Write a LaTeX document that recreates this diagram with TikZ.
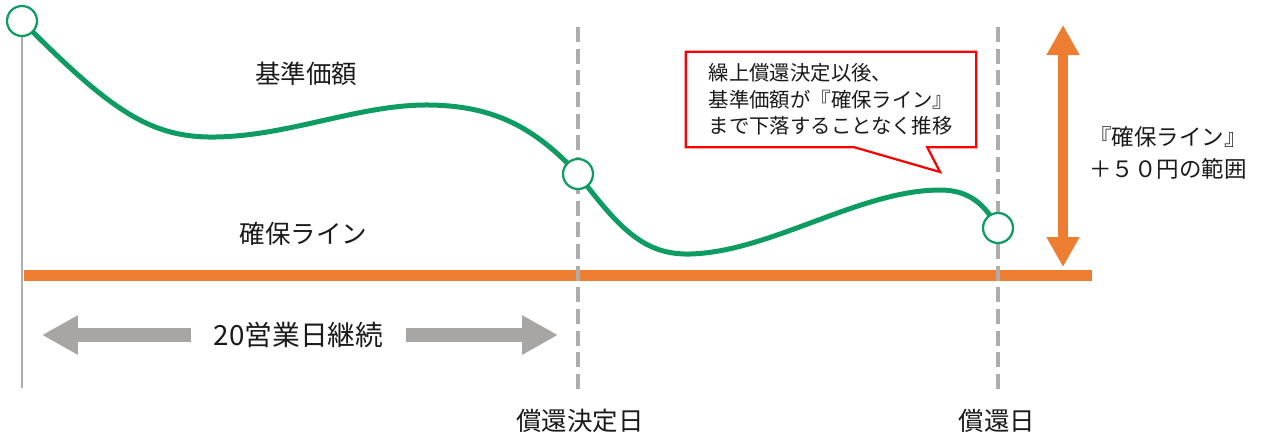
\documentclass[tikz,border=0pt]{standalone}
\usepackage{fontspec}
\setmainfont{Noto Sans CJK JP}
\usetikzlibrary{arrows.meta,calc}
\definecolor{grn}{HTML}{0E9C62}
\definecolor{org}{HTML}{ED7D31}
\definecolor{gry}{HTML}{A8A6A5}
\definecolor{dgry}{HTML}{ADADAD}
\definecolor{txt}{HTML}{1A1A1A}
\definecolor{callred}{HTML}{FF0000}
\tikzset{
  lbl/.style={text=txt,inner sep=0pt,font=\fontsize{14.5pt}{17pt}\selectfont},
  ptcirc/.style={circle,draw=grn,line width=0.045cm,fill=white,minimum size=0.6cm,inner sep=0pt},
  vdash/.style={draw=dgry,line width=0.09cm,dash pattern=on 0.3cm off 0.134cm},
  axisline/.style={draw=dgry,line width=0.05cm},
  baseline/.style={draw=org,line width=0.22cm},
  price/.style={draw=grn,line width=0.1cm,line cap=round},
  grayarr/.style={draw=gry,line width=0.28cm,-{Triangle[length=0.72cm,width=0.74cm]}},
  orgarr/.style={draw=org,line width=0.2cm,{Triangle[length=0.6cm,width=0.62cm]}-{Triangle[length=0.6cm,width=0.62cm]}},
  callbox/.style={text=txt,align=left,minimum width=5.8cm,minimum height=1.9cm,inner sep=0pt,font=\fontsize{11.6pt}{15pt}\selectfont},
}
\begin{document}
\begin{tikzpicture}[x=0.02cm,y=-0.02cm]
\useasboundingbox (0,0) rectangle (1266,441);
% coordinates
\coordinate (p1) at (22,21);
\coordinate (p2) at (578,174);
\coordinate (p3) at (998,228);
\coordinate (ax0) at (22,388);
\coordinate (bl0) at (24,275.5);
\coordinate (bl1) at (1092,275.5);
\coordinate (d1t) at (578,27);
\coordinate (d1b) at (578,390);
\coordinate (d2t) at (998,27);
\coordinate (d2b) at (998,390);
% orange baseline
\draw[baseline] (bl0) -- (bl1);
% dashed lines
\draw[vdash] (d1t) -- (d1b);
\draw[vdash] (d2t) -- (d2b);
% axis
\draw[axisline] (p1) -- (ax0);
% price curve
\draw[price] (p1) .. controls (110,110) and (150,138) .. (215,137)
  .. controls (290,136) and (360,104) .. (430,105)
  .. controls (495,106) and (535,128) .. (p2)
  .. controls (620,230) and (645,255) .. (690,254)
  .. controls (770,252) and (860,190) .. (940,190)
  .. controls (970,190) and (985,205) .. (p3);
% circles
\node[ptcirc] (c1) at (p1) {};
\node[ptcirc] (c2) at (p2) {};
\node[ptcirc] (c3) at (p3) {};
% labels
\node[lbl] (kijun) at (306,74) {基準価額};
\node[lbl] (kakuho) at (303.5,233.5) {確保ライン};
\node[lbl] (shokanket) at (580,421) {償還決定日};
\node[lbl] (shokan) at (997,421) {償還日};
% duration arrow
\coordinate (la) at (42,335);
\coordinate (ra) at (558,335);
\node[text=txt,inner xsep=0.44cm,inner ysep=0pt,font=\fontsize{15.8pt}{18pt}\selectfont] (dur) at (298.5,335) {20営業日継続};
\draw[grayarr] (dur.west) -- (la);
\draw[grayarr] (dur.east) -- (ra);
% orange range arrow
\coordinate (oat) at (1063,25);
\coordinate (oab) at (1063,267);
\draw[orgarr] (oat) -- (oab);
\node[text=txt,align=center,inner sep=0pt,font=\fontsize{12.8pt}{18pt}\selectfont] (range) at (1168,153) {『確保ライン』\\＋５０円の範囲};
% callout
\coordinate (ctip) at (940,172);
\node[callbox] (cb) at (831,99.5) {繰上償還決定以後、\\基準価額が『確保ライン』\\まで下落することなく推移};
\draw[draw=callred,line width=0.045cm] (cb.north west) -- (cb.north east) -- (cb.south east)
  -- ($(cb.south east)+(-49,0)$) -- (ctip) -- ($(cb.south west)+(169,0)$) -- (cb.south west) -- cycle;
\end{tikzpicture}
\end{document}
